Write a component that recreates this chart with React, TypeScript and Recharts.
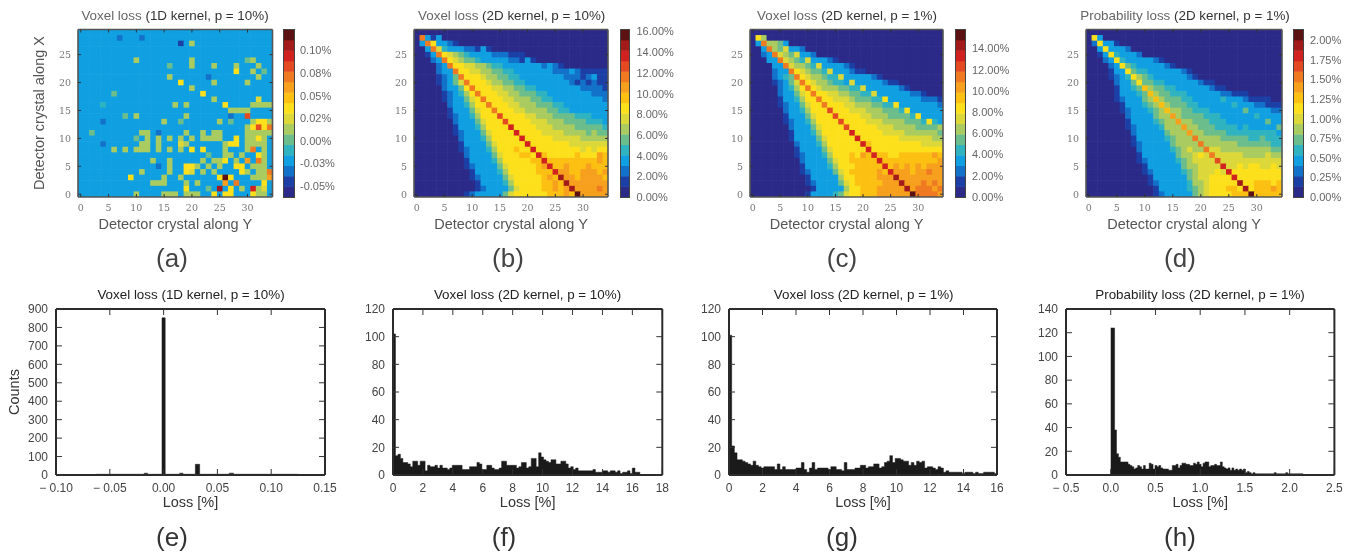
import {
  Area,
  AreaChart,
  Scatter,
  ScatterChart,
  XAxis,
  YAxis,
} from 'recharts'

// colour levels of the maps, lowest to highest (hex digit in the rows below)
const levelColors = [
  '#2b2a88', '#1c3fa6', '#1271c8', '#10a0e2', '#2fb3c0', '#6bbd8c', '#a9cb5f', '#dcd83a',
  '#fde01c', '#fbc012', '#f6a01e', '#ef7a22', '#e34a22', '#d2221f', '#a31a1a', '#5c1212',
]

// rows run from crystal X = 29 (top) to X = 0 (bottom), 35 columns along Y
const heatRowsA = [
  '33333 33333 33333 33333 33333 33333 33333',
  '33333 33233 32333 33333 33333 33333 33333',
  '33333 33333 33333 33313 63333 33333 33333',
  '33333 33333 33333 33333 33333 33333 33333',
  '33333 33333 33333 33333 33333 33333 33333',
  '33333 33333 63333 33333 63333 33333 56333',
  '33333 33333 33333 35333 63336 33363 33633',
  '33333 33333 33333 33333 33333 33383 36353',
  '33333 33333 33333 36333 33323 33333 33633',
  '33333 33333 33333 33383 33336 33333 63333',
  '33333 33333 33333 33333 63333 33333 33333',
  '33333 35333 33333 33333 33833 33333 33333',
  '33333 33333 33333 33333 33336 33333 33733',
  '33334 33333 33333 33636 33333 38333 36666',
  '33333 33333 33333 33333 33333 33666 63333',
  '33333 33353 63333 33336 33333 33233 c3333',
  '33332 33333 33333 63353 33333 63533 36886',
  '33333 33333 33333 33333 33333 33333 68c8b',
  '33533 33333 36632 33336 33636 63333 66666',
  '33333 33333 53636 36363 63666 63383 66863',
  '33332 33333 36636 33376 33333 36883 66663',
  '33333 36363 66636 36363 83833 36333 6b363',
  '33333 33333 33333 33333 33353 36636 33863',
  '33333 33333 33363 36333 33636 68363 a3b63',
  '33333 33333 33332 36338 86363 63388 36663',
  '33333 33333 36333 36338 73636 33338 6366b',
  '33333 33338 33333 63363 33333 8f833 3666a',
  '33333 33333 33366 63336 36333 3a3b3 33383',
  '33333 33333 33333 33338 33353 e3836 3d673',
  '33333 33333 63333 66636 66338 38833 38663',
]

const heatRowsB = [
  '00000 00000 00000 00000 00000 00000 00000',
  '0b313 00000 00000 00000 00000 00000 00000',
  '03b83 32100 00000 00000 00000 00000 00000',
  '003b7 43332 21310 00000 00000 00000 00000',
  '0013b 87654 33332 22111 00000 00000 00000',
  '00023 b8765 54333 33221 31000 00000 00000',
  '00002 3b887 76654 43333 33323 21000 00000',
  '00002 33b88 77665 54433 33333 22232 11111',
  '00001 235b8 88766 55443 33333 33222 12311',
  '00001 2357b 88876 65544 33333 33321 21211',
  '00000 23358 b8887 76655 44333 33333 22221',
  '00000 12346 8b888 77665 55443 33333 33222',
  '00000 12335 78b88 87766 65544 33333 33332',
  '00000 02334 688b8 88776 66555 44333 33333',
  '00000 01333 5788b 88877 66665 54433 33333',
  '00000 01233 46888 c8888 77666 55554 44333',
  '00000 00233 35788 8c888 87776 66555 54443',
  '00000 00133 34688 88d88 88777 66665 55554',
  '00000 00123 33578 888d8 88877 77666 65655',
  '00000 00023 33468 8888d 88888 77777 66666',
  '00000 00013 33357 88888 d8888 88877 77777',
  '00000 00012 33346 88898 8d888 88888 78788',
  '00000 00002 33335 78889 98d98 88889 888a9',
  '00000 00001 33334 68888 899d9 99999 999a9',
  '00000 00001 23333 57888 889ad 99a99 9a999',
  '00000 00000 13333 46888 88999 daa99 aaa9a',
  '00000 00000 12333 35788 8889a 9eaa9 aaaa9',
  '00000 00000 01333 34688 88899 a9eaa aaaaa',
  '00000 00000 01233 33578 88899 a9aea aaaba',
  '00000 00001 23333 35788 88889 99a9f aaaaa',
]

const heatRowsC = [
  '00000 00000 00000 00000 00000 00000 00000',
  '08600 00000 00000 00000 00000 00000 00000',
  '03b66 53000 00000 00000 00000 00000 00000',
  '003b6 57332 00000 00000 00000 00000 00000',
  '0023b 76573 32000 00000 00000 00000 00000',
  '00033 b7654 73332 10000 00000 00000 00000',
  '00003 3b766 54733 33210 00000 00000 00000',
  '00002 33b87 65547 33321 10000 00000 00000',
  '00002 345b8 76654 47333 33210 00000 00000',
  '00001 2357b 87665 44373 33332 11000 00000',
  '00000 23468 b8766 65544 73333 33210 00000',
  '00000 23357 8b887 76655 44733 33332 21000',
  '00000 13346 88b88 77765 55448 33333 32221',
  '00000 12335 788b8 88776 66554 48333 33332',
  '00000 02334 6888c 88877 76665 55483 33333',
  '00000 01333 57888 c8888 77666 55554 83333',
  '00000 01233 46888 8c888 87776 66655 54843',
  '00000 00233 35788 88c88 88877 76666 55556',
  '00000 00133 34688 888d8 88887 77766 66665',
  '00000 00133 33578 8888d 88888 88777 77766',
  '00000 00023 33468 88888 d9888 88888 87777',
  '00000 00013 33357 88888 8d888 88888 88888',
  '00000 00012 33346 88898 a9d99 88999 999a9',
  '00000 00002 33335 78899 999d9 99999 9999a',
  '00000 00001 33334 68889 9999d 9a9a9 a9aaa',
  '00000 00001 23333 57899 999a9 daaa9 aabaa',
  '00000 00000 13333 36889 999aa aeaaa aaaaa',
  '00000 00000 12333 35789 9999a aaeaa ababa',
  '00000 00000 01333 33688 999aa aaaea bbbab',
  '00000 00000 13333 45788 999aa aaaaf bbbba',
]

const heatRowsD = [
  '00000 00000 00000 00000 00000 00000 00000',
  '08300 00000 00000 00000 00000 00000 00000',
  '02833 10000 00000 00000 00000 00000 00000',
  '00383 33200 00000 00000 00000 00000 00000',
  '00138 43332 00000 00000 00000 00000 00000',
  '00023 84333 33210 00000 00000 00000 00000',
  '00002 38543 33332 10000 00000 00000 00000',
  '00001 33854 43333 33210 00000 00000 00000',
  '00001 23486 54333 33321 00000 00000 00000',
  '00000 23358 55443 33333 21100 00000 00000',
  '00000 13345 96554 43333 33211 00000 00000',
  '00000 13334 59655 44433 33332 21110 00000',
  '00000 12333 56965 55443 33334 33321 11100',
  '00000 01333 45696 55544 33333 34333 22111',
  '00000 01233 34569 66554 44333 33353 33322',
  '00000 00233 33566 a6555 54443 33333 43333',
  '00000 00133 33456 6a665 55444 33333 33533',
  '00000 00123 33346 66a66 55544 44343 33335',
  '00000 00023 33335 666a6 65555 44444 44443',
  '00000 00013 33334 5666b 66665 55554 45444',
  '00000 00012 33333 56666 b6666 66555 55544',
  '00000 00002 33333 45676 6b776 66666 66655',
  '00000 00001 33333 35667 87b77 77766 66766',
  '00000 00001 23333 34567 777c7 77777 77777',
  '00000 00000 13333 33566 7777d 77878 87787',
  '00000 00000 12333 33456 77787 d8888 88888',
  '00000 00000 01333 33356 77888 8d888 88888',
  '00000 00000 01233 33346 67888 88e88 99989',
  '00000 00000 00133 33345 67888 998e8 999a9',
  '00000 00000 00123 33335 67888 8999f 99999',
]

// colour bars: axis range, tick values and their printed labels
const barRangeA = [-0.0621, 0.1231]
const barTicksA = [-0.05, -0.025, 0, 0.025, 0.05, 0.075, 0.1]
const barLabelsA = ['-0.05%', '-0.03%', '0.00%', '0.02%', '0.05%', '0.08%', '0.10%']
const barRangeB = [0, 16.2]
const barTicksB = [0, 2, 4, 6, 8, 10, 12, 14, 16]
const barLabelsB = ['0.00%', '2.00%', '4.00%', '6.00%', '8.00%', '10.00%', '12.00%', '14.00%', '16.00%']
const barRangeC = [0, 15.8]
const barTicksC = [0, 2, 4, 6, 8, 10, 12, 14]
const barLabelsC = ['0.00%', '2.00%', '4.00%', '6.00%', '8.00%', '10.00%', '12.00%', '14.00%']
const barRangeD = [0, 2.14]
const barTicksD = [0, 0.25, 0.5, 0.75, 1, 1.25, 1.5, 1.75, 2]
const barLabelsD = ['0.00%', '0.25%', '0.50%', '0.75%', '1.00%', '1.25%', '1.50%', '1.75%', '2.00%']

const crystalTicksY = [0, 5, 10, 15, 20, 25, 30]
const crystalTicksX = [0, 5, 10, 15, 20, 25]

// histograms: left bin edges and counts
const edgesE = [-0.0625, -0.018, -0.015, -0.0015, 0.0015, 0.015, 0.018, 0.0295, 0.0335, 0.061, 0.065, 0.125]
const countsE = [4, 10, 4, 852, 4, 10, 4, 58, 4, 10, 4, 0]

const binWidthF = 0.165
const countsF = [
  102, 14, 15, 12, 9, 9, 8, 6, 10, 10, 7, 10, 10, 3, 7, 6, 6, 7, 5, 7,
  5, 5, 4, 5, 7, 7, 7, 7, 4, 4, 4, 6, 6, 6, 9, 8, 4, 4, 7, 7,
  5, 4, 4, 5, 10, 10, 7, 7, 7, 7, 5, 6, 9, 9, 5, 6, 12, 12, 6, 16,
  13, 11, 10, 9, 11, 11, 8, 8, 10, 10, 8, 5, 6, 4, 5, 3, 3, 3, 3, 3,
  3, 4, 2, 2, 2, 3, 3, 2, 3, 3, 2, 3, 1, 2, 2, 3, 1, 5, 2, 2, 0,
]

const binWidthG = 0.16
const countsG = [
  101, 21, 16, 11, 11, 10, 9, 8, 7, 10, 7, 6, 5, 6, 6, 6, 6, 4, 8, 4,
  6, 4, 4, 4, 4, 5, 5, 9, 4, 2, 5, 9, 4, 5, 5, 5, 5, 4, 6, 6,
  4, 4, 3, 9, 4, 4, 4, 5, 5, 7, 7, 5, 6, 6, 8, 8, 5, 6, 9, 10,
  14, 9, 12, 12, 11, 10, 10, 7, 9, 7, 10, 9, 10, 5, 6, 6, 5, 4, 6, 5,
  2, 3, 2, 2, 2, 2, 2, 1, 2, 2, 2, 1, 2, 1, 1, 2, 2, 2, 2, 1, 0,
]

const binWidthH = 0.0215
const countsH = [
  124, 124, 38, 18, 15, 11, 11, 11, 11, 9, 8, 7, 5, 6, 8, 7, 5, 8, 5, 5,
  10, 9, 5, 8, 7, 8, 6, 5, 5, 5, 4, 4, 8, 8, 9, 6, 8, 10, 10, 9,
  9, 8, 8, 10, 9, 11, 9, 7, 10, 11, 11, 7, 8, 8, 9, 8, 8, 11, 7, 6,
  5, 6, 4, 6, 4, 5, 4, 5, 4, 5, 2, 3, 2, 1, 2, 1, 1, 1, 1, 1,
  1, 1, 1, 1, 1, 2, 1, 1, 1, 1, 1, 2, 1, 1, 1, 1, 1, 1, 1, 1, 0,
]

const sans = '"Liberation Sans", Arial, sans-serif'
const serif = '"DejaVu Serif", serif'
const blankLabel = () => ''

function rowsToCells(rows: string[]) {
  const cells: { col: number; row: number; level: number }[] = []
  rows.forEach((text, i) => {
    text.replace(/ /g, '').split('').forEach((ch, col) => {
      cells.push({ col, row: 29 - i, level: parseInt(ch, 16) })
    })
  })
  return cells
}

interface Box { left: number; right: number; top: number; bottom: number }

const TOP_BOX = { top: 29.5, bottom: 197 }
const LOW_BOX = { top: 309, bottom: 475 }

function HeatMap({ rows, box }: { rows: string[]; box: Box }) {
  const plotW = box.right - box.left
  const plotH = box.bottom - box.top
  const cellW = plotW / 35
  const cellH = plotH / 30
  const frame = { stroke: '#555', strokeWidth: 1.6 }
  const tickStyle = { fontSize: 9.5, fontFamily: serif, fill: '#777' }
  const gridLine = { stroke: '#333', strokeWidth: 1 }
  const width = plotW + 80
  const height = 245
  const margin = { left: 46, top: box.top - 1, right: 3, bottom: height - box.bottom - 20 }
  const layer = { position: 'absolute', left: box.left - 76, top: 0 } as const
  return (
    <>
      {/* the cells sit in their own soft layer, frame and ticks are drawn over them */}
      <div style={{ ...layer, filter: 'blur(0.7px)' }}>
        <ScatterChart width={width} height={height} margin={{ ...margin, top: box.top, right: 4 }}>
          <XAxis type="number" dataKey="col" domain={[-0.5, 34.5]} height={20} allowDataOverflow
            tick={false} tickLine={false} axisLine={false} />
          <YAxis type="number" dataKey="row" domain={[-0.5, 29.5]} width={30} allowDataOverflow
            tick={false} tickLine={false} axisLine={false} />
          <Scatter
            data={rowsToCells(rows)}
            isAnimationActive={false}
            shape={(p: any) => (
              <rect
                x={p.cx - cellW / 2}
                y={p.cy - cellH / 2}
                width={cellW + 0.6}
                height={cellH + 0.6}
                fill={levelColors[p.payload.level]}
              />
            )}
          />
        </ScatterChart>
      </div>
      <div style={layer}>
        <ScatterChart width={width} height={height} margin={margin}>
          <XAxis type="number" dataKey="col" domain={[-0.5, 34.5]} ticks={crystalTicksY} height={20}
            allowDataOverflow interval={0} tickSize={-3} tickMargin={10} tick={tickStyle}
            tickLine={gridLine} axisLine={frame}
            label={{ value: 'Detector crystal along Y', position: 'bottom', offset: 2, fontSize: 14.5, fontFamily: sans, fill: '#555' }} />
          <XAxis xAxisId="top" orientation="top" type="number" dataKey="col" domain={[-0.5, 34.5]} ticks={crystalTicksY}
            height={1} allowDataOverflow interval={0} tickSize={-3} tickFormatter={blankLabel} tickLine={gridLine} axisLine={frame} />
          <YAxis type="number" dataKey="row" domain={[-0.5, 29.5]} ticks={crystalTicksX} width={30}
            allowDataOverflow interval={0} tickSize={-3} tickMargin={10} tick={tickStyle}
            tickLine={gridLine} axisLine={frame} />
          <YAxis yAxisId="right" orientation="right" type="number" dataKey="row" domain={[-0.5, 29.5]} ticks={crystalTicksX}
            width={1} allowDataOverflow interval={0} tickSize={-3} tickFormatter={blankLabel} tickLine={gridLine} axisLine={frame} />
          <Scatter data={[]} isAnimationActive={false} />
          <Scatter data={[]} xAxisId="top" yAxisId="right" isAnimationActive={false} />
        </ScatterChart>
      </div>
    </>
  )
}

function ColorBar({ left, right, range, ticks, labels, gap }: {
  left: number; right: number; range: number[]; ticks: number[]; labels: string[]; gap: number
}) {
  const height = 225
  const step = (range[1] - range[0]) / levelColors.length
  const plotH = TOP_BOX.bottom - TOP_BOX.top
  const bands = levelColors.map((_, i) => ({ a: 0.5, b: range[0] + (i + 0.5) * step, level: i }))
  return (
    <>
      <div style={{ position: 'absolute', left, top: 0 }}>
        <ScatterChart
          width={right - left + 50}
          height={height}
          margin={{ left: 0, right: 0, top: TOP_BOX.top, bottom: height - TOP_BOX.bottom }}
        >
          <XAxis type="number" dataKey="a" domain={[0, 1]} hide height={0} />
          <YAxis orientation="right" type="number" dataKey="b" domain={range} ticks={ticks} width={50}
            allowDataOverflow interval={0} tickSize={-2} tickMargin={gap + 2} axisLine={false}
            tickLine={{ stroke: '#333' }}
            tick={{ fontSize: 11, fontFamily: sans, fill: '#666' }}
            tickFormatter={(v: number) => labels[ticks.indexOf(v)]} />
          <Scatter
            data={bands}
            isAnimationActive={false}
            shape={(p: any) => {
              const h = plotH / levelColors.length
              return (
                <rect x={0} y={p.cy - h / 2} width={right - left} height={h + 0.4}
                  fill={levelColors[p.payload.level]} />
              )
            }}
          />
        </ScatterChart>
      </div>
      <div style={{
        position: 'absolute', left: left - 0.75, top: TOP_BOX.top - 0.75, boxSizing: 'border-box',
        width: right - left + 1.5, height: plotH + 1.5, border: '1.5px solid #444',
      }} />
    </>
  )
}

function Histogram({ data, box, domainX, ticksX, labelsX, domainY, ticksY }: {
  data: { loss: number; count: number }[]
  box: Box
  domainX: number[]
  ticksX: number[]
  labelsX: string[]
  domainY: number[]
  ticksY: number[]
}) {
  const frame = { stroke: '#2b2b2b', strokeWidth: 2 }
  const tickStyle = { fontSize: 12, fontFamily: sans, fill: '#444' }
  const tickLine = { stroke: '#333', strokeWidth: 1 }
  const width = box.right - box.left + 80
  const height = 230
  return (
    <div style={{ position: 'absolute', left: box.left - 56, top: 290 }}>
      <AreaChart
        data={data}
        width={width}
        height={height}
        margin={{ left: 26, top: box.top - 291, right: 23, bottom: height - (box.bottom - 290) - 20 }}
      >
        <XAxis type="number" dataKey="loss" domain={domainX} ticks={ticksX} height={20}
          allowDataOverflow interval={0} tickSize={-6} tickMargin={14} tick={tickStyle}
          tickLine={tickLine} axisLine={frame}
          tickFormatter={(v: number) => labelsX[ticksX.indexOf(v)]}
          label={{ value: 'Loss [%]', position: 'bottom', offset: 2, fontSize: 14.5, fontFamily: sans, fill: '#333' }} />
        <XAxis xAxisId="top" orientation="top" type="number" dataKey="loss" domain={domainX} ticks={ticksX} height={1}
          allowDataOverflow interval={0} tickSize={-6} tickFormatter={blankLabel} tickLine={tickLine} axisLine={frame} />
        <YAxis type="number" domain={domainY} ticks={ticksY} width={30}
          allowDataOverflow interval={0} tickSize={-6} tickMargin={14} tick={tickStyle}
          tickLine={tickLine} axisLine={frame} />
        <YAxis yAxisId="right" orientation="right" type="number" domain={domainY} ticks={ticksY} width={1}
          allowDataOverflow interval={0} tickSize={-6} tickFormatter={blankLabel} tickLine={tickLine} axisLine={frame} />
        <Area type="stepAfter" dataKey="count" stroke="#1a1a1a" strokeWidth={0.5} fill="#1a1a1a"
          fillOpacity={1} dot={false} activeDot={false} isAnimationActive={false} />
        <Area xAxisId="top" yAxisId="right" type="stepAfter" dataKey="count" stroke="none" fill="none"
          dot={false} activeDot={false} isAnimationActive={false} />
      </AreaChart>
    </div>
  )
}

function Caption({ x, y, size, color, turn, children }: any) {
  return (
    <div style={{
      position: 'absolute', left: x, top: y,
      transform: `translate(-50%, -50%)${turn ? ' rotate(-90deg)' : ''}`,
      fontFamily: sans, fontSize: size, color, whiteSpace: 'nowrap',
    }}>
      {children}
    </div>
  )
}

function HeatTitle({ x, lead, rest }: { x: number; lead: string; rest: string }) {
  return (
    <Caption x={x} y={15} size={13.4} color="#333">
      <span style={{ color: '#666' }}>{lead}</span> {rest}
    </Caption>
  )
}

const withEdges = (edges: number[], counts: number[]) =>
  counts.map((count, i) => ({ loss: edges[i], count }))
const withBins = (width: number, counts: number[]) =>
  counts.map((count, i) => ({ loss: i * width, count }))

const boxA = { left: 77.5, right: 272, ...TOP_BOX }
const boxB = { left: 414, right: 608, ...TOP_BOX }
const boxC = { left: 750, right: 943, ...TOP_BOX }
const boxD = { left: 1086, right: 1282, ...TOP_BOX }
const boxE = { left: 56, right: 325, ...LOW_BOX }
const boxF = { left: 392.7, right: 662, ...LOW_BOX }
const boxG = { left: 729, right: 997, ...LOW_BOX }
const boxH = { left: 1066.3, right: 1334.7, ...LOW_BOX }

export default function App() {
  return (
    <div style={{
      position: 'absolute', left: 0, top: 0, width: 1357, height: 552, overflow: 'hidden',
      background: '#fff', filter: 'blur(0.35px)',
    }}>
      <HeatMap rows={heatRowsA} box={boxA} />
      <HeatMap rows={heatRowsB} box={boxB} />
      <HeatMap rows={heatRowsC} box={boxC} />
      <HeatMap rows={heatRowsD} box={boxD} />

      <ColorBar left={284} right={294} range={barRangeA} ticks={barTicksA} labels={barLabelsA} gap={6} />
      <ColorBar left={621} right={629.5} range={barRangeB} ticks={barTicksB} labels={barLabelsB} gap={7} />
      <ColorBar left={956} right={965} range={barRangeC} ticks={barTicksC} labels={barLabelsC} gap={7} />
      <ColorBar left={1294} right={1303} range={barRangeD} ticks={barTicksD} labels={barLabelsD} gap={7} />

      <HeatTitle x={175} lead="Voxel loss" rest="(1D kernel, p = 10%)" />
      <HeatTitle x={511.7} lead="Voxel loss" rest="(2D kernel, p = 10%)" />
      <HeatTitle x={847} lead="Voxel loss" rest="(2D kernel, p = 1%)" />
      <HeatTitle x={1185} lead="Probability loss" rest="(2D kernel, p = 1%)" />

      <Caption x={39} y={113} size={14.5} color="#555" turn>Detector crystal along X</Caption>

      <Caption x={172} y={258} size={26} color="#444">(a)</Caption>
      <Caption x={508} y={258} size={26} color="#444">(b)</Caption>
      <Caption x={842} y={258} size={26} color="#444">(c)</Caption>
      <Caption x={1180} y={258} size={26} color="#444">(d)</Caption>

      <Histogram data={withEdges(edgesE, countsE)} box={boxE}
        domainX={[-0.1, 0.15]} ticksX={[-0.1, -0.05, 0, 0.05, 0.1, 0.15]}
        labelsX={['− 0.10', '− 0.05', '0.00', '0.05', '0.10', '0.15']}
        domainY={[0, 900]} ticksY={[0, 100, 200, 300, 400, 500, 600, 700, 800, 900]} />
      <Histogram data={withBins(binWidthF, countsF)} box={boxF}
        domainX={[0, 18]} ticksX={[0, 2, 4, 6, 8, 10, 12, 14, 16, 18]}
        labelsX={['0', '2', '4', '6', '8', '10', '12', '14', '16', '18']}
        domainY={[0, 120]} ticksY={[0, 20, 40, 60, 80, 100, 120]} />
      <Histogram data={withBins(binWidthG, countsG)} box={boxG}
        domainX={[0, 16]} ticksX={[0, 2, 4, 6, 8, 10, 12, 14, 16]}
        labelsX={['0', '2', '4', '6', '8', '10', '12', '14', '16']}
        domainY={[0, 120]} ticksY={[0, 20, 40, 60, 80, 100, 120]} />
      <Histogram data={withBins(binWidthH, countsH)} box={boxH}
        domainX={[-0.5, 2.5]} ticksX={[-0.5, 0, 0.5, 1, 1.5, 2, 2.5]}
        labelsX={['− 0.5', '0.0', '0.5', '1.0', '1.5', '2.0', '2.5']}
        domainY={[0, 140]} ticksY={[0, 20, 40, 60, 80, 100, 120, 140]} />

      <Caption x={14} y={392} size={14.5} color="#333" turn>Counts</Caption>

      <Caption x={191} y={294} size={13.4} color="#222">Voxel loss (1D kernel, p = 10%)</Caption>
      <Caption x={527.5} y={294} size={13.4} color="#222">Voxel loss (2D kernel, p = 10%)</Caption>
      <Caption x={863.7} y={294} size={13.4} color="#222">Voxel loss (2D kernel, p = 1%)</Caption>
      <Caption x={1200} y={294} size={13.4} color="#222">Probability loss (2D kernel, p = 1%)</Caption>

      <Caption x={172} y={537} size={26} color="#333">(e)</Caption>
      <Caption x={504} y={537} size={26} color="#333">(f)</Caption>
      <Caption x={842} y={537} size={26} color="#333">(g)</Caption>
      <Caption x={1180} y={537} size={26} color="#333">(h)</Caption>
    </div>
  )
}
